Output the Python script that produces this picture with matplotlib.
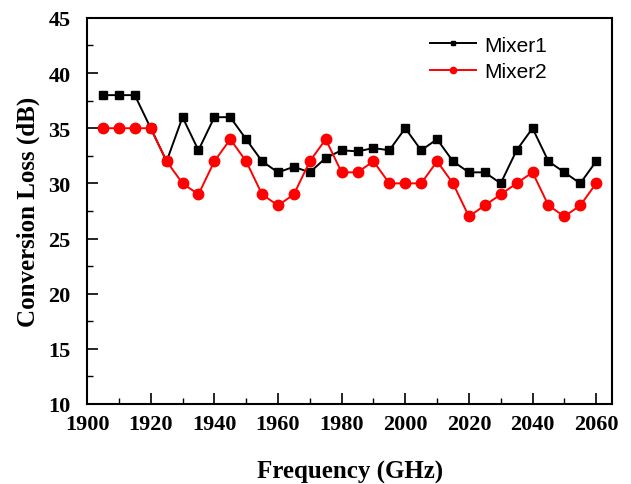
import matplotlib.pyplot as plt
from matplotlib.ticker import MultipleLocator

freq = [1905, 1910, 1915, 1920, 1925, 1930, 1935, 1940, 1945, 1950, 1955, 1960, 1965, 1970, 1975, 1980,
        1985, 1990, 1995, 2000, 2005, 2010, 2015, 2020, 2025, 2030, 2035, 2040, 2045, 2050, 2055, 2060]
mixer1 = [38, 38, 38, 35, 32, 36, 33, 36, 36, 34, 32, 31, 31.5, 31, 32.3, 33,
          32.9, 33.2, 33, 35, 33, 34, 32, 31, 31, 30, 33, 35, 32, 31, 30, 32]
mixer2 = [35, 35, 35, 35, 32, 30, 29, 32, 34, 32, 29, 28, 29, 32, 34, 31,
          31, 32, 30, 30, 30, 32, 30, 27, 28, 29, 30, 31, 28, 27, 28, 30]
x_ticks = list(range(1900, 2061, 20))
y_ticks = list(range(10, 46, 5))

serif = ['Liberation Serif', 'DejaVu Serif']

fig = plt.figure(figsize=(6.31, 4.85), dpi=100)
ax = fig.add_axes([0.138, 0.165, 0.832, 0.796])

ax.plot(freq, mixer1, color='black', marker='s', markersize=6, linewidth=1.4, label='Mixer1')
ax.plot(freq, mixer2, color='red', marker='o', markersize=7.5, linewidth=1.4, label='Mixer2')

ax.set_xlim(1900, 2065)
ax.set_ylim(10, 45)
ax.set_xticks(x_ticks)
ax.set_yticks(y_ticks)
ax.xaxis.set_minor_locator(MultipleLocator(10))
ax.yaxis.set_minor_locator(MultipleLocator(2.5))
ax.tick_params(which='major', direction='in', length=8, width=1.2, labelsize=16)
ax.tick_params(which='minor', direction='in', length=4, width=1.0)
ax.tick_params(axis='x', which='major', pad=7)
ax.tick_params(axis='y', which='major', pad=12)
for lab in ax.get_xticklabels() + ax.get_yticklabels():
    lab.set_family(serif)
    lab.set_fontweight('bold')
for sp in ax.spines.values():
    sp.set_linewidth(1.5)

ax.set_xlabel('Frequency (GHz)', family=serif, fontweight='bold', fontsize=18, labelpad=19)
ax.set_ylabel('Conversion Loss (dB)', family=serif, fontweight='bold', fontsize=18, labelpad=6)

ax.legend(loc='upper right', bbox_to_anchor=(0.912, 1.003), frameon=False,
          prop={'family': ['Liberation Sans', 'DejaVu Sans'], 'size': 15},
          handlelength=2.2, labelspacing=0.35, handletextpad=0.4, markerscale=0.6)

fig.savefig('out.png', dpi=100)
